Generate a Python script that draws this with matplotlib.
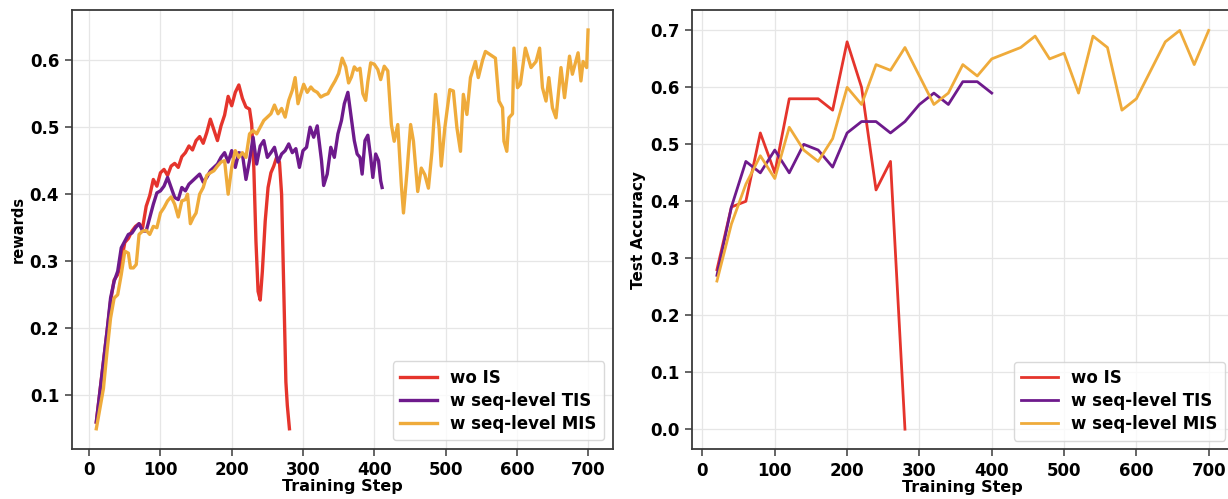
import matplotlib
matplotlib.use("Agg")
import matplotlib.pyplot as plt

# ---------------- data: left panel (rewards) ----------------
red_x = [10, 15, 20, 25, 30, 35, 40, 45, 50, 55, 60, 65, 70, 75, 80, 85, 90, 95, 100, 105,
         110, 115, 120, 125, 130, 135, 140, 145, 150, 155, 160, 165, 170, 175, 180, 185, 190,
         195, 200, 205, 210, 215, 220, 225, 228, 231, 234, 237, 240, 243, 247, 251, 255, 259,
         263, 267, 270, 273, 276, 278, 281]
red_y = [0.060, 0.105, 0.150, 0.195, 0.240, 0.272, 0.280, 0.300, 0.328, 0.334, 0.345, 0.352,
         0.356, 0.350, 0.382, 0.398, 0.422, 0.412, 0.432, 0.437, 0.428, 0.442, 0.446, 0.440,
         0.456, 0.462, 0.472, 0.466, 0.480, 0.486, 0.476, 0.492, 0.512, 0.496, 0.480, 0.502,
         0.518, 0.546, 0.532, 0.552, 0.563, 0.543, 0.530, 0.527, 0.505, 0.440, 0.330, 0.255,
         0.242, 0.285, 0.360, 0.410, 0.432, 0.442, 0.455, 0.448, 0.400, 0.260, 0.120, 0.085,
         0.050]

tis_x = [10, 15, 20, 25, 30, 35, 40, 45, 50, 55, 60, 65, 70, 75, 80, 85, 90, 95, 100, 105,
         110, 115, 120, 125, 130, 135, 140, 145, 150, 155, 160, 165, 170, 175, 180, 185, 190,
         195, 200, 205, 210, 215, 220, 225, 230, 235, 240, 245, 250, 255, 260, 265, 270, 275,
         280, 285, 290, 295, 300, 305, 310, 315, 320, 326, 329, 334, 339, 344, 349, 354, 358,
         363, 367, 372, 376, 380, 383, 387, 391, 395, 398, 402, 406, 409, 411]
tis_y = [0.060, 0.105, 0.150, 0.195, 0.245, 0.270, 0.285, 0.320, 0.330, 0.340, 0.342, 0.350,
         0.356, 0.345, 0.345, 0.365, 0.385, 0.402, 0.405, 0.412, 0.425, 0.410, 0.395, 0.392,
         0.410, 0.405, 0.415, 0.420, 0.425, 0.430, 0.418, 0.425, 0.435, 0.440, 0.445, 0.455,
         0.462, 0.448, 0.465, 0.440, 0.462, 0.460, 0.422, 0.450, 0.485, 0.445, 0.472, 0.480,
         0.455, 0.462, 0.470, 0.448, 0.460, 0.465, 0.475, 0.462, 0.468, 0.440, 0.465, 0.470,
         0.500, 0.485, 0.502, 0.450, 0.413, 0.430, 0.470, 0.455, 0.490, 0.510, 0.535, 0.552,
         0.520, 0.480, 0.460, 0.455, 0.430, 0.480, 0.488, 0.455, 0.425, 0.460, 0.450, 0.420,
         0.410]

mis_x = [10, 15, 20, 25, 30, 35, 40, 45, 50, 55, 58, 62, 66, 70, 75, 80, 85, 90, 95, 100,
         105, 110, 115, 120, 125, 130, 135, 138, 142, 146, 150, 155, 160, 165, 170, 175, 180,
         185, 190, 195, 200, 205, 210, 215, 220, 225, 230, 235, 240, 245, 250, 255, 260, 265,
         270, 275, 280, 285, 289, 293, 297, 301, 306, 311, 315, 320, 325, 330, 335, 340, 345,
         350, 355, 360, 364, 368, 372, 376, 380, 384, 388, 391, 395, 400, 405, 409, 414, 419,
         424, 428, 433, 438, 441, 446, 451, 455, 461, 466, 471, 476, 481, 486, 491, 494, 499,
         506, 511, 516, 521, 525, 530, 535, 542, 546, 552, 556, 563, 570, 575, 580, 582, 586,
         589, 594, 596, 601, 605, 612, 620, 627, 632, 636, 641, 645, 650, 655, 662, 667, 674,
         678, 686, 690, 693, 698, 700]
mis_y = [0.050, 0.080, 0.110, 0.165, 0.215, 0.245, 0.250, 0.280, 0.315, 0.312, 0.290, 0.290,
         0.295, 0.340, 0.345, 0.346, 0.340, 0.352, 0.350, 0.372, 0.380, 0.390, 0.396, 0.385,
         0.366, 0.390, 0.392, 0.400, 0.356, 0.365, 0.372, 0.400, 0.410, 0.428, 0.432, 0.435,
         0.442, 0.448, 0.450, 0.400, 0.440, 0.465, 0.455, 0.462, 0.455, 0.490, 0.495, 0.490,
         0.500, 0.510, 0.515, 0.520, 0.533, 0.520, 0.528, 0.515, 0.540, 0.555, 0.574, 0.535,
         0.550, 0.564, 0.552, 0.560, 0.555, 0.552, 0.545, 0.548, 0.550, 0.560, 0.569, 0.580,
         0.603, 0.590, 0.566, 0.575, 0.590, 0.585, 0.588, 0.550, 0.540, 0.568, 0.596, 0.594,
         0.586, 0.571, 0.591, 0.584, 0.504, 0.479, 0.504, 0.414, 0.372, 0.434, 0.504, 0.479,
         0.404, 0.439, 0.429, 0.409, 0.464, 0.549, 0.499, 0.442, 0.499, 0.556, 0.554, 0.499,
         0.464, 0.549, 0.519, 0.574, 0.598, 0.574, 0.600, 0.613, 0.608, 0.603, 0.539, 0.529,
         0.479, 0.464, 0.514, 0.520, 0.618, 0.559, 0.564, 0.618, 0.589, 0.598, 0.618, 0.559,
         0.539, 0.574, 0.529, 0.514, 0.589, 0.544, 0.606, 0.579, 0.611, 0.569, 0.598, 0.589,
         0.645]

# ---------------- data: right panel (test accuracy) ----------------
acc_red_x = [20, 40, 60, 80, 100, 120, 140, 160, 180, 200, 220, 240, 260, 280]
acc_red_y = [0.28, 0.39, 0.40, 0.52, 0.45, 0.58, 0.58, 0.58, 0.56, 0.68, 0.60, 0.42, 0.47, 0.00]

acc_tis_x = [20, 40, 60, 80, 100, 120, 140, 160, 180, 200, 220, 240, 260, 280, 300, 320, 340,
             360, 380, 400]
acc_tis_y = [0.27, 0.39, 0.47, 0.45, 0.49, 0.45, 0.50, 0.49, 0.46, 0.52, 0.54, 0.54, 0.52,
             0.54, 0.57, 0.59, 0.57, 0.61, 0.61, 0.59]

acc_mis_x = [20, 40, 60, 80, 100, 120, 140, 160, 180, 200, 220, 240, 260, 280, 300, 320, 340,
             360, 380, 400, 420, 440, 460, 480, 500, 520, 540, 560, 580, 600, 620, 640, 660,
             680, 700]
acc_mis_y = [0.26, 0.36, 0.43, 0.48, 0.44, 0.53, 0.49, 0.47, 0.51, 0.60, 0.57, 0.64, 0.63,
             0.67, 0.62, 0.57, 0.59, 0.64, 0.62, 0.65, 0.66, 0.67, 0.69, 0.65, 0.66, 0.59,
             0.69, 0.67, 0.56, 0.58, 0.63, 0.68, 0.70, 0.64, 0.70]

labels = ["wo IS", "w seq-level TIS", "w seq-level MIS"]
xticks = [0, 100, 200, 300, 400, 500, 600, 700]

C_RED = "#e5342c"
C_PUR = "#6e1a8c"
C_YEL = "#efab3b"

plt.rcParams["font.family"] = "DejaVu Sans"
plt.rcParams["font.weight"] = "bold"

fig = plt.figure(figsize=(12.28, 4.99), dpi=100)
ax1 = fig.add_axes([0.0584, 0.1008, 0.4405, 0.879])
ax2 = fig.add_axes([0.5638, 0.1000, 0.4405, 0.879])


def style(ax):
    ax.grid(True, color="#e6e6e6", linewidth=0.9, zorder=0)
    ax.set_axisbelow(True)
    for s in ax.spines.values():
        s.set_color("#3a3a3a")
        s.set_linewidth(1.3)
    ax.tick_params(axis="both", direction="out", length=5, width=1.1,
                   color="#3a3a3a", labelsize=12, pad=4)
    for lab in ax.get_xticklabels() + ax.get_yticklabels():
        lab.set_fontweight("bold")
    ax.set_xticks(xticks)
    ax.set_xlabel("Training Step", fontsize=11.5, fontweight="bold", labelpad=0)
    leg = ax.legend(loc="lower right", prop={"weight": "bold", "size": 12},
                    frameon=True, fancybox=True, edgecolor="#d0d0d0",
                    handlelength=2.2, borderpad=0.45, labelspacing=0.3)
    leg.get_frame().set_linewidth(1.0)


ax1.plot(red_x, red_y, color=C_RED, lw=2.4, label=labels[0])
ax1.plot(tis_x, tis_y, color=C_PUR, lw=2.4, label=labels[1])
ax1.plot(mis_x, mis_y, color=C_YEL, lw=2.4, label=labels[2])
ax1.set_ylabel("rewards", fontsize=10.5, fontweight="bold", labelpad=3)
style(ax1)

ax2.plot(acc_red_x, acc_red_y, color=C_RED, lw=2.0, label=labels[0])
ax2.plot(acc_tis_x, acc_tis_y, color=C_PUR, lw=2.0, label=labels[1])
ax2.plot(acc_mis_x, acc_mis_y, color=C_YEL, lw=2.0, label=labels[2])
ax2.set_ylabel("Test Accuracy", fontsize=11, fontweight="bold", labelpad=3)
style(ax2)
ax2.set_yticks([0.0, 0.1, 0.2, 0.3, 0.4, 0.5, 0.6, 0.7])

fig.savefig("out.png", dpi=100)
